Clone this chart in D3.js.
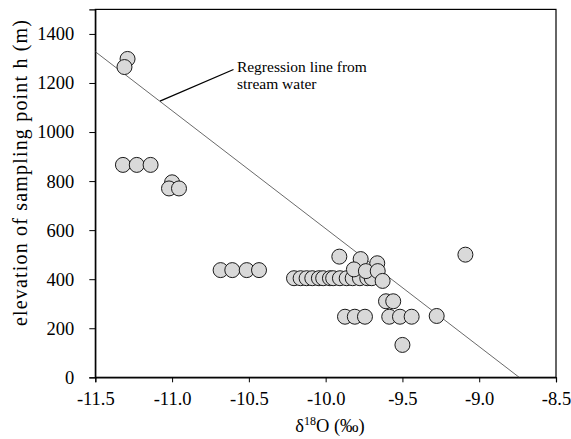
<!DOCTYPE html>
<html><head><meta charset="utf-8">
<script src="https://cdn.jsdelivr.net/npm/d3@7"></script>
<style>body{margin:0;background:#fff}svg{display:block}</style>
</head><body><svg id="c" width="571" height="439"></svg>
<script>
const d18O = [-11.29,-11.31,
  -11.32,-11.23,-11.14,
  -11.00,-11.02,-10.955,
  -10.684,-10.608,-10.514,-10.434,
  -10.206,-10.163,-10.124,-10.087,-10.044,-10.016,-9.972,-9.951,-9.907,-9.863,-9.824,-9.777,-9.729,-9.70,
  -9.911,-9.772,-9.664,-9.816,-9.738,-9.661,-9.629,
  -9.607,-9.56,
  -9.874,-9.81,-9.744,-9.586,-9.516,-9.44,-9.277,
  -9.50,
  -9.09];
const elevation = [1298,1265,
  866,866,866,
  795,770,770,
  437,437,437,437,
  404,404,404,404,404,404,404,404,404,404,404,404,404,404,
  492,482,465,440,433,433,393,
  310,310,
  247,247,247,247,247,247,250,
  132,
  500];
const xTicks = [-11.5,-11.0,-10.5,-10.0,-9.5,-9.0,-8.5];
const yTicks = [0,200,400,600,800,1000,1200,1400];
const regSlope = -481, regZero = -8.74; // h = slope*(d18O - zero)
const annotLine = [[-11.079,1126],[-10.60,1255]];
const annotText = ["Regression line from","stream water"];

const FONT = "Liberation Serif";
const svg = d3.select("#c").style("font-family",FONT);
const L=95.3, R=556, T=9.4, B=377.3;
const x = d3.scaleLinear().domain([-11.5,-8.5]).range([L,R]);
const y = d3.scaleLinear().domain([0,1500]).range([B,T]);

// frame
svg.append("rect").attr("x",L).attr("y",T).attr("width",R-L).attr("height",B-T)
  .attr("fill","none").attr("stroke","#000").attr("stroke-width",1.2);

const fmtX = d=> d3.format(".1f")(d).replace("−","-");
const gx = svg.append("g").attr("transform",`translate(0,${B})`)
  .call(d3.axisBottom(x).tickValues(xTicks).tickSize(5).tickPadding(10).tickFormat(fmtX));
const gy = svg.append("g").attr("transform",`translate(${L},0)`)
  .call(d3.axisLeft(y).tickValues(yTicks).tickSize(6).tickPadding(15).tickFormat(d3.format("d")));
[gx,gy].forEach(g=>{
  g.attr("font-family",FONT).attr("font-size",18.5);
  g.select(".domain").attr("stroke","#000").attr("stroke-width",1.2);
  g.selectAll(".tick line").attr("stroke","#000");
  g.selectAll("text").style("font-family",FONT).style("font-size","18.5px").attr("fill","#000");
});

// regression line
const regX = [-11.5, regZero];
svg.append("line").attr("x1",x(regX[0])).attr("y1",y(regSlope*(regX[0]-regZero)))
  .attr("x2",x(regX[1])).attr("y2",y(regSlope*(regX[1]-regZero)))
  .attr("stroke","#444").attr("stroke-width",0.8);

// annotation
svg.append("line").attr("x1",x(annotLine[0][0])).attr("y1",y(annotLine[0][1]))
  .attr("x2",x(annotLine[1][0])).attr("y2",y(annotLine[1][1]))
  .attr("stroke","#000").attr("stroke-width",1.3);
const at = svg.append("text").attr("x",x(-10.578)).attr("y",y(1245))
  .style("font-family",FONT).style("font-size","15.5px").attr("fill","#000");
annotText.forEach((t,i)=>at.append("tspan").attr("x",x(-10.578)).attr("dy",i?17:0).text(t));

// points
svg.append("g").selectAll("circle").data(d18O.map((d,i)=>[d,elevation[i]])).join("circle")
  .attr("cx",d=>x(d[0])).attr("cy",d=>y(d[1])).attr("r",7.5)
  .attr("fill","#d9d9d9").attr("stroke","#1a1a1a").attr("stroke-width",1);

// axis titles
const xt = svg.append("text").attr("x",330).attr("y",432).attr("text-anchor","middle")
  .style("font-family",FONT).style("font-size","18.5px").attr("fill","#000");
xt.append("tspan").text("δ");
xt.append("tspan").attr("dy",-7).style("font-size","12px").text("18");
xt.append("tspan").attr("dy",7).text("O (‰)");
svg.append("text").attr("transform","translate(27,173) rotate(-90)").attr("text-anchor","middle")
  .style("font-family",FONT).style("font-size","20px").attr("fill","#000")
  .attr("textLength",306).attr("lengthAdjust","spacing")
  .text("elevation of sampling point h (m)");
</script></body></html>
